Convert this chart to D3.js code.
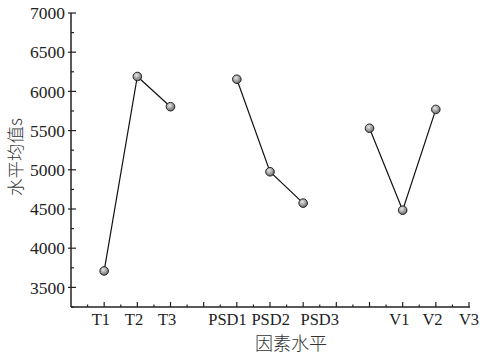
<!DOCTYPE html>
<html>
<head>
<meta charset="utf-8">
<script src="https://cdn.jsdelivr.net/npm/d3@7"></script>
<style>
  body { margin: 0; background: #fff; }
  svg { display: block; }
</style>
</head>
<body>
<div id="root"></div>
<script>
// factor levels and their mean values (s)
const tLevels = ["T1", "T2", "T3"];
const tValues = [3710, 6190, 5805];
const psdLevels = ["PSD1", "PSD2", "PSD3"];
const psdValues = [6155, 4975, 4575];
const vLevels = ["V1", "V2", "V3"];
const vValues = [5530, 4485, 5770];

const tickLabels = ["T1", "T2", "T3", "PSD1", "PSD2", "PSD3", "V1", "V2", "V3"];
const yTicks = [3500, 4000, 4500, 5000, 5500, 6000, 6500, 7000];

// layout: slot index on the x axis for each group / label
const groupStart = [1, 5, 9];
const labelSlot = [0.9, 1.9, 2.9, 4.72, 6.02, 7.5, 9.9, 10.9, 12.0];

const width = 480, height = 355;
const margin = { left: 71, right: 11, top: 13, bottom: 48 };

const svg = d3.select("#root").append("svg")
  .attr("width", width).attr("height", height);

const x = d3.scaleLinear().domain([0, 12]).range([margin.left, width - margin.right]);
const y = d3.scaleLinear().domain([3250, 7000]).range([height - margin.bottom, margin.top]);

const ink = "#222";
const serif = "'Liberation Serif', 'Times New Roman', serif";

// gradient for the markers
const grad = svg.append("defs").append("radialGradient")
  .attr("id", "ball").attr("cx", "40%").attr("cy", "35%").attr("r", "65%");
grad.append("stop").attr("offset", "0%").attr("stop-color", "#e8e8e8");
grad.append("stop").attr("offset", "100%").attr("stop-color", "#6a6a6a");

// y axis
const yAxis = svg.append("g").attr("transform", `translate(${x(0)},0)`);
yAxis.append("line")
  .attr("y1", y(3250)).attr("y2", y(7000))
  .attr("stroke", ink).attr("stroke-width", 1.5);
d3.range(3250, 7001, 250).forEach(v => {
  const major = v % 500 === 0;
  yAxis.append("line")
    .attr("x1", major ? -3 : 0).attr("x2", major ? 5 : 3)
    .attr("y1", y(v)).attr("y2", y(v))
    .attr("stroke", ink).attr("stroke-width", 1.2);
});
yAxis.selectAll("text.tick").data(yTicks).enter().append("text")
  .attr("class", "tick")
  .attr("x", -6).attr("y", d => y(d))
  .attr("dy", "0.35em")
  .attr("text-anchor", "end")
  .attr("font-family", serif).attr("font-size", "17.5px").attr("fill", "#222")
  .text(d => d);

// x axis
const xAxis = svg.append("g").attr("transform", `translate(0,${y(3250)})`);
xAxis.append("line")
  .attr("x1", x(0)).attr("x2", x(12) + 1)
  .attr("stroke", ink).attr("stroke-width", 1.5);
d3.range(0.5, 12.01, 0.5).forEach(s => {
  const major = Number.isInteger(s);
  xAxis.append("line")
    .attr("x1", x(s)).attr("x2", x(s))
    .attr("y1", 0).attr("y2", major ? -5 : -2.5)
    .attr("stroke", ink).attr("stroke-width", 1.2);
});
xAxis.selectAll("text").data(tickLabels).enter().append("text")
  .attr("x", (d, i) => x(labelSlot[i]))
  .attr("y", 18)
  .attr("text-anchor", "middle")
  .attr("font-family", serif).attr("font-size", "16.5px").attr("fill", "#222")
  .text(d => d);

// titles
svg.append("text")
  .attr("x", 291).attr("y", 350)
  .attr("text-anchor", "middle")
  .attr("font-family", "'Noto Sans CJK SC', sans-serif")
  .attr("font-size", "18px").attr("font-weight", 300).attr("fill", "#333")
  .text("因素水平");

svg.append("text")
  .attr("transform", `translate(22,${157}) rotate(-90)`)
  .attr("text-anchor", "middle")
  .attr("font-family", "'Noto Sans CJK SC', sans-serif")
  .attr("font-size", "17.5px").attr("font-weight", 300).attr("fill", "#333")
  .text("水平均值s");

// series
const groups = [
  { levels: tLevels, values: tValues },
  { levels: psdLevels, values: psdValues },
  { levels: vLevels, values: vValues }
];

const line = d3.line().x(d => x(d.slot)).y(d => y(d.value));

groups.forEach((g, gi) => {
  const pts = g.values.map((v, i) => ({ slot: groupStart[gi] + i, value: v }));
  svg.append("path")
    .attr("d", line(pts))
    .attr("fill", "none")
    .attr("stroke", "#111").attr("stroke-width", 1.2);
  svg.selectAll(null).data(pts).enter().append("circle")
    .attr("cx", d => x(d.slot)).attr("cy", d => y(d.value))
    .attr("r", 4.3)
    .attr("fill", "url(#ball)")
    .attr("stroke", "#222").attr("stroke-width", 1);
});
</script>
</body>
</html>
